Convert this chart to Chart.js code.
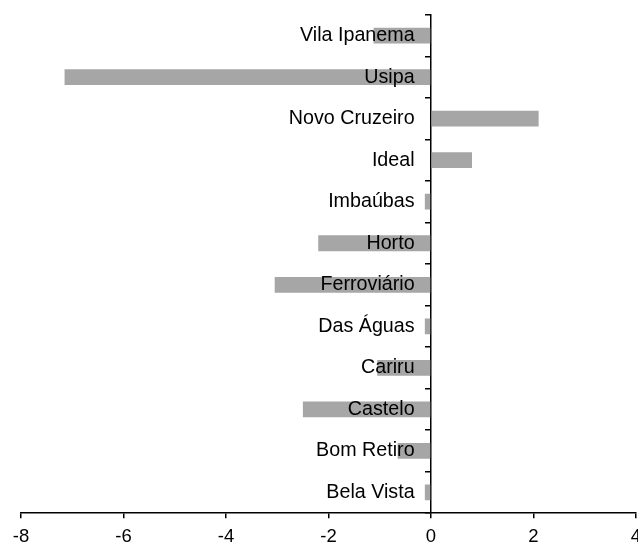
<!DOCTYPE html>
<html>
<head>
<meta charset="utf-8">
<script src="https://cdn.jsdelivr.net/npm/chart.js@4"></script>
<style>
  html, body { margin: 0; padding: 0; background: #fff; }
  #wrap { width: 638px; height: 555px; }
</style>
</head>
<body>
<div id="wrap"><canvas id="barChart"></canvas></div>
<script>
var bairros = ['Vila Ipanema', 'Usipa', 'Novo Cruzeiro', 'Ideal', 'Imbaúbas', 'Horto',
    'Ferroviário', 'Das Águas', 'Cariru', 'Castelo', 'Bom Retiro', 'Bela Vista'];
var valores = [-1.12, -7.15, 2.1, 0.8, -0.12, -2.2, -3.05, -0.12, -1.05, -2.5, -0.65, -0.12];
var xTicks = [-8, -6, -4, -2, 0, 2, 4];

var ctx = document.getElementById("barChart").getContext('2d');
var fonte = "'Liberation Sans', Arial, sans-serif";

var data = {
    labels: bairros,
    datasets: [
        {
            data: valores,
            backgroundColor: '#a6a6a6',
            borderWidth: 0,
            barPercentage: 0.38,
            categoryPercentage: 1
        }
    ]
};

var options = {
    indexAxis: 'y',
    responsive: true,
    maintainAspectRatio: false,
    animation: false,
    layout: {
        padding: { left: 21, right: 2, top: 11, bottom: 0 }
    },
    plugins: {
        legend: { display: false },
        tooltip: { enabled: false }
    },
    scales: {
        x: {
            min: -8,
            max: 4,
            afterBuildTicks: function (axis) {
                axis.ticks = xTicks.map(function (v) { return { value: v }; });
            },
            // the "4" label may run off the edge like in the original
            afterFit: function (axis) { axis.paddingRight = 0; },
            border: { display: true, color: '#000', width: 1.5 },
            grid: { drawOnChartArea: false, color: '#000', tickLength: 5, lineWidth: 1.5 },
            ticks: { color: '#000', font: { family: fonte, size: 18.5, lineHeight: 0.8 }, padding: 11, maxRotation: 0 }
        },
        y: {
            position: { x: 0 },
            border: { display: true, color: '#000', width: 1.5 },
            grid: { drawOnChartArea: false, color: '#000', tickLength: 5, lineWidth: 1.5 },
            ticks: {
                z: 1,
                color: '#000',
                font: { family: fonte, size: 19.7 },
                // keep the names a little left of the axis line
                callback: function (v) { return this.getLabelForValue(v) + '   '; }
            }
        }
    }
};

var myBarChart = new Chart(ctx, {
    type: 'bar',
    data: data,
    options: options
});
</script>
</body>
</html>
